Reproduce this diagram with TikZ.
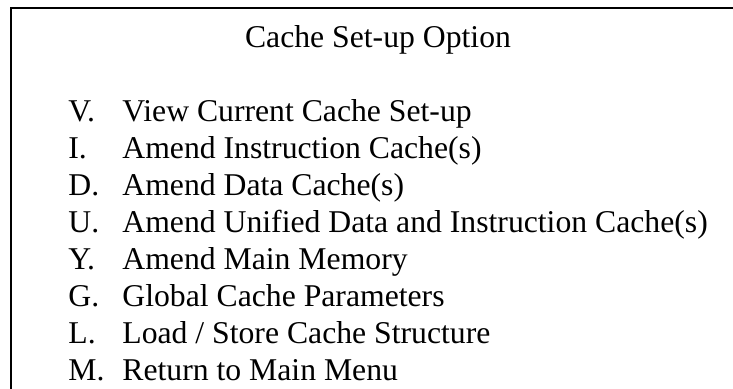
\documentclass[tikz,border=0pt]{standalone}
\usepackage{fontspec}
\setmainfont{Liberation Serif}
\begin{document}
\begin{tikzpicture}[x=0.5pt,y=-0.5pt,font=\fontsize{15.85}{19}\selectfont,
  key/.style={anchor=base west,inner sep=0pt},
  entry/.style={anchor=base west,inner sep=0pt}]
  \useasboundingbox (0,0) rectangle (733,389);
  % frame, open to the right and below
  \coordinate (corner) at (10.5,8.5);
  \coordinate (frameend) at (733,8.5);
  \coordinate (framefoot) at (10.5,389);
  \draw[line width=1pt] (framefoot) -- (corner) -- (frameend);
  % heading
  \node[anchor=base,inner sep=0pt] (title) at (378,48) {Cache Set-up Option};
  % menu entries
  \foreach \k/\txt [count=\i] in {V/{View Current Cache Set-up},
      I/{Amend Instruction Cache(s)}, D/{Amend Data Cache(s)},
      U/{Amend Unified Data and Instruction Cache(s)}, Y/{Amend Main Memory},
      G/{Global Cache Parameters}, L/{Load / Store Cache Structure},
      M/{Return to Main Menu}}
  {
    \node[key] (key\i) at (68,{122+36.9*(\i-1)}) {\k.};
    \node[entry] (entry\i) at (122,{122+36.9*(\i-1)}) {\txt};
  }
\end{tikzpicture}
\end{document}
